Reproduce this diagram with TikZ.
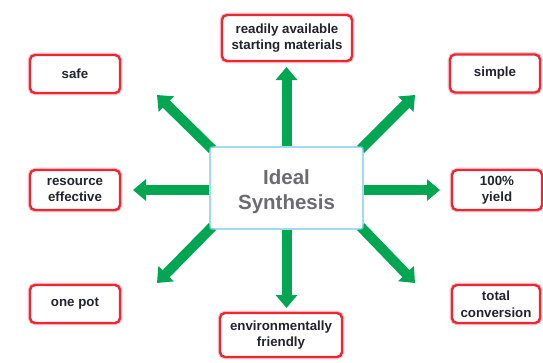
\documentclass[tikz,border=0pt]{standalone}
\usepackage{fontspec}
\setmainfont{Liberation Sans}
\usetikzlibrary{arrows.meta,backgrounds}
\definecolor{arrgreen}{RGB}{0,166,81}
\definecolor{boxred}{RGB}{232,40,52}
\definecolor{boxcyan}{RGB}{110,200,228}
\definecolor{txtdark}{RGB}{35,35,45}
\definecolor{titlegray}{RGB}{108,108,112}
\tikzset{
  goalbox/.style={draw=boxred, line width=2.4pt, rounded corners=5pt, fill=white,
    preaction={draw=boxred!25, line width=4.6pt},
    align=center, inner sep=0pt, font=\fontsize{13.3}{16.5}\selectfont\bfseries,
    text=txtdark},
  centerbox/.style={draw=boxcyan, line width=1.4pt, rounded corners=2pt, fill=white,
    minimum width=153pt, minimum height=82pt},
  titletext/.style={align=center, yshift=-4pt,
    font=\fontsize{20.5}{25}\selectfont\bfseries, text=titlegray},
  bigarrow/.style={draw=arrgreen, line width=10pt,
    -{Triangle[length=13pt,width=21pt]}},
}
\begin{document}
\begin{tikzpicture}[x=1pt,y=-1pt]
\useasboundingbox (0,0) rectangle (543,362);
\node[centerbox, label={[titletext]center:{Ideal\\Synthesis}}] (c) at (286.5,188) {};
\node[goalbox, minimum width=130pt, minimum height=46pt] (ready) at (287,38) {readily available\\starting materials};
\node[goalbox, minimum width=122pt, minimum height=44pt] (env) at (281,335) {environmentally\\friendly};
\node[goalbox, minimum width=90pt, minimum height=38pt] (safe) at (75,74) {safe};
\node[goalbox, minimum width=90pt, minimum height=38pt] (simple) at (495,73.5) {simple};
\node[goalbox, minimum width=90pt, minimum height=40pt] (res) at (75,190) {resource\\effective};
\node[goalbox, minimum width=90pt, minimum height=40pt] (yield) at (497,190) {100\%\\yield};
\node[goalbox, minimum width=90pt, minimum height=38pt] (onepot) at (75,304) {one pot};
\node[goalbox, minimum width=88pt, minimum height=38pt] (total) at (496,304) {total\\conversion};
\coordinate (tn) at (286.5,67);
\coordinate (ts) at (286.5,308);
\coordinate (tw) at (133,190);
\coordinate (te) at (440,190);
\coordinate (tnw) at (157,95);
\coordinate (tne) at (415,95);
\coordinate (tsw) at (157,283);
\coordinate (tse) at (415,283);
\begin{scope}[on background layer]
\draw[bigarrow] (c.north) -- (tn);
\draw[bigarrow] (c.south) -- (ts);
\draw[bigarrow] (c.west |- tw) -- (tw);
\draw[bigarrow] (c.east |- te) -- (te);
\draw[bigarrow] ([shift={(3,3)}]c.north west) -- (tnw);
\draw[bigarrow] ([shift={(-3,3)}]c.north east) -- (tne);
\draw[bigarrow] ([shift={(3,-3)}]c.south west) -- (tsw);
\draw[bigarrow] ([shift={(-3,-3)}]c.south east) -- (tse);
\end{scope}
\end{tikzpicture}
\end{document}
